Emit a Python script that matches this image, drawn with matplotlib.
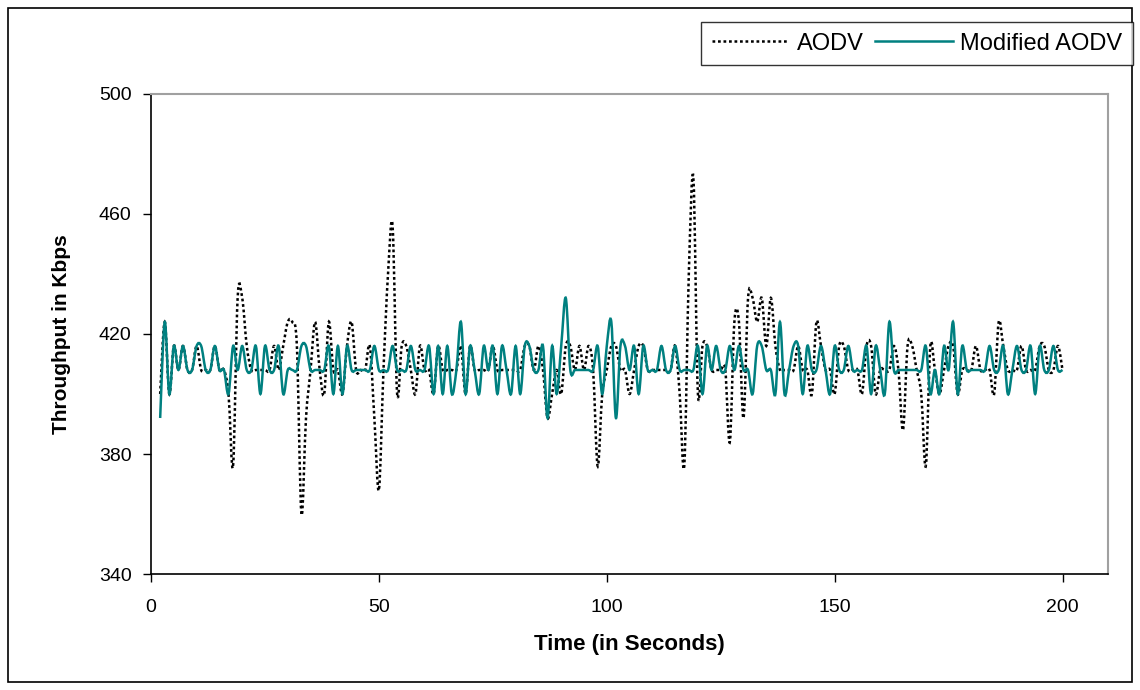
import numpy as np
import matplotlib
matplotlib.use("Agg")
import matplotlib.pyplot as plt
from matplotlib.patches import Rectangle, PathPatch
from matplotlib.path import Path
from matplotlib.lines import Line2D

plt.rcParams['font.family'] = ['Liberation Sans', 'DejaVu Sans']

# time in seconds, one sample per second
time_s = np.arange(2, 201)

# throughput in Kbps
aodv = [
    400, 424, 400, 416, 408, 416, 408, 408, 416, 408,
    408, 408, 416, 408, 408, 400, 376, 432, 432, 416,
    408, 408, 408, 408, 408, 416, 408, 416, 424, 424,
    416, 360, 392, 408, 424, 408, 400, 424, 408, 408,
    400, 416, 424, 408, 408, 408, 416, 392, 368, 408,
    440, 456, 400, 416, 416, 408, 400, 416, 408, 408,
    400, 416, 408, 408, 408, 408, 416, 400, 416, 408,
    408, 408, 408, 416, 408, 408, 408, 408, 408, 408,
    416, 416, 408, 416, 408, 392, 400, 408, 400, 416,
    416, 408, 416, 408, 416, 408, 376, 400, 408, 416,
    416, 408, 408, 400, 408, 416, 416, 408, 408, 408,
    408, 408, 408, 416, 400, 376, 440, 472, 400, 416,
    416, 408, 408, 408, 408, 384, 424, 424, 392, 432,
    432, 424, 432, 416, 432, 416, 408, 408, 408, 408,
    416, 408, 408, 400, 424, 416, 408, 408, 400, 416,
    416, 408, 408, 408, 400, 416, 416, 400, 408, 408,
    408, 416, 408, 388, 416, 416, 408, 400, 376, 416,
    408, 400, 408, 416, 416, 400, 408, 408, 408, 416,
    408, 408, 408, 400, 424, 416, 408, 408, 408, 416,
    408, 408, 408, 416, 416, 408, 408, 416, 408,
]

modified_aodv = [
    392, 424, 400, 416, 408, 416, 408, 408, 416, 416,
    408, 408, 416, 408, 408, 400, 416, 408, 416, 408,
    408, 416, 400, 416, 408, 408, 416, 400, 408, 408,
    408, 416, 416, 408, 408, 408, 408, 416, 400, 416,
    400, 416, 408, 408, 408, 408, 408, 416, 408, 408,
    408, 416, 408, 408, 408, 416, 408, 408, 408, 416,
    400, 416, 400, 416, 400, 408, 424, 400, 416, 408,
    400, 416, 408, 416, 400, 416, 408, 400, 416, 400,
    416, 416, 408, 408, 416, 392, 416, 400, 416, 432,
    408, 408, 408, 408, 408, 408, 416, 400, 416, 424,
    392, 416, 416, 408, 416, 400, 416, 408, 408, 408,
    416, 408, 408, 416, 408, 408, 408, 408, 416, 400,
    416, 408, 416, 408, 408, 416, 408, 416, 408, 408,
    400, 416, 416, 408, 408, 400, 424, 400, 408, 416,
    416, 400, 416, 408, 408, 416, 408, 400, 416, 408,
    408, 416, 408, 408, 408, 416, 400, 416, 408, 400,
    424, 408, 408, 408, 408, 408, 408, 408, 416, 400,
    408, 400, 416, 408, 424, 400, 416, 408, 408, 408,
    408, 408, 416, 408, 408, 416, 400, 408, 416, 408,
    408, 416, 400, 416, 408, 408, 416, 408, 408,
]

x_ticks = [0, 50, 100, 150, 200]
y_ticks = [340, 380, 420, 460, 500]


def smooth_path(x, y):
    # Excel style "smoothed line": cubic Bezier through every data point
    x = np.asarray(x, float)
    y = np.asarray(y, float)
    px = np.concatenate([[x[0]], x, [x[-1]]])
    py = np.concatenate([[y[0]], y, [y[-1]]])
    verts = [(x[0], y[0])]
    codes = [Path.MOVETO]
    for i in range(len(x) - 1):
        j = i + 1
        c1 = (px[j] + (px[j + 1] - px[j - 1]) / 6, py[j] + (py[j + 1] - py[j - 1]) / 6)
        c2 = (px[j + 1] - (px[j + 2] - px[j]) / 6, py[j + 1] - (py[j + 2] - py[j]) / 6)
        verts += [c1, c2, (x[i + 1], y[i + 1])]
        codes += [Path.CURVE4] * 3
    return Path(verts, codes)


fig = plt.figure(figsize=(11.4, 6.9), dpi=100)
ax = fig.add_axes([0.1325, 0.168, 0.8395, 0.696])

aodv_style = dict(color='black', linewidth=1.8, linestyle=(0, (1.1, 1.1)))
mod_style = dict(color='#008080', linewidth=1.8)

ax.add_patch(PathPatch(smooth_path(time_s, aodv), fill=False, edgecolor=aodv_style['color'],
                       linewidth=aodv_style['linewidth'], linestyle=aodv_style['linestyle'],
                       transform=ax.transData))
ax.add_patch(PathPatch(smooth_path(time_s, modified_aodv), fill=False, edgecolor=mod_style['color'],
                       linewidth=mod_style['linewidth'], transform=ax.transData))

ax.set_xlim(0, 210)
ax.set_ylim(340, 500)
ax.set_xticks(x_ticks)
ax.set_yticks(y_ticks)
ax.tick_params(direction='out', length=6, width=1, labelsize=14, pad=8)
ax.tick_params(axis='x', pad=12)

for side in ['top', 'right']:
    ax.spines[side].set_color('#a0a0a0')
    ax.spines[side].set_linewidth(1.5)
for side in ['left', 'bottom']:
    ax.spines[side].set_color('black')
    ax.spines[side].set_linewidth(1.2)

ax.set_xlabel('Time (in Seconds)', fontsize=16, fontweight='bold', labelpad=13)
ax.set_ylabel('Throughput in Kbps', fontsize=15, fontweight='bold', labelpad=20)

handles = [Line2D([], [], **aodv_style), Line2D([], [], **mod_style)]
leg = fig.legend(handles, ['AODV', 'Modified AODV'], loc='upper right',
                 bbox_to_anchor=(1133 / 1140, 1 - 22 / 690), ncol=2,
                 fontsize=17, frameon=True, fancybox=False, borderaxespad=0,
                 handlelength=3.3, handletextpad=0.3, columnspacing=0.5,
                 borderpad=0.45)
leg.get_frame().set_edgecolor('black')
leg.get_frame().set_linewidth(1.0)

# outer chart border
fig.patches.append(Rectangle((8 / 1140, 8 / 690), 1124 / 1140, 674 / 690,
                             transform=fig.transFigure, fill=False,
                             edgecolor='black', linewidth=1.2))

fig.savefig('out.png', dpi=100)
